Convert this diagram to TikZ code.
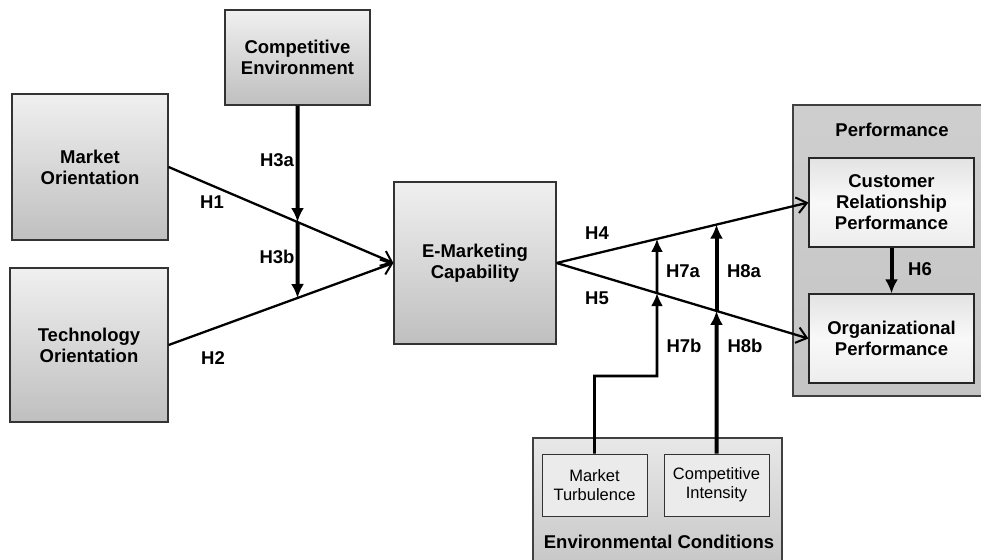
\documentclass[tikz,border=0pt]{standalone}
\usepackage{fontspec}
\setmainfont{Liberation Sans}
\usetikzlibrary{arrows.meta}
\begin{document}
\begin{tikzpicture}[x=1pt,y=-1pt,
  bigfont/.style={font=\bfseries\fontsize{18.5}{21}\selectfont},
  box/.style={draw=black!80, line width=1.2pt, top color=gray!12, bottom color=gray!50, align=center, bigfont, inner sep=0pt},
  innerbox/.style={draw=black!85, line width=1.2pt, top color=gray!22, bottom color=gray!14, middle color=gray!5, align=center, bigfont, inner sep=0pt},
  smallbox/.style={draw=black!80, line width=1pt, fill=gray!16, align=center, font=\fontsize{16.5}{19}\selectfont, inner sep=0pt},
  group/.style={draw=black!75, line width=1.2pt, inner sep=0pt},
  lab/.style={bigfont, inner sep=0pt},
  thinarrow/.style={line width=2.3pt, -{Straight Barb[length=10pt,width=16pt,line width=2pt]}},
  thickarrow/.style={line width=4pt, -{Latex[length=14pt,width=13pt]}},
  medarrow/.style={line width=2.8pt, -{Latex[length=13pt,width=12pt]}},
]
\useasboundingbox (0,0) rectangle (981,559);

% group boxes
\node[group, top color=gray!38, bottom color=gray!46, minimum width=192pt, minimum height=291pt] (perf) at (889,250.5) {};
\node[group, top color=gray!18, bottom color=gray!45, minimum width=249pt, minimum height=132pt] (env) at (657.5,504) {};

% main boxes
\node[box, minimum width=145pt, minimum height=95pt] (ce) at (297.5,57.5) {Competitive\\Environment};
\node[box, minimum width=156pt, minimum height=146pt] (mo) at (90,167) {Market\\Orientation};
\node[box, minimum width=158pt, minimum height=154pt] (to) at (89,345) {Technology\\Orientation};
\node[box, minimum width=162pt, minimum height=162pt] (em) at (475,263) {E-Marketing\\Capability};

\node[lab] (perflab) at (892,130) {Performance};
\node[innerbox, minimum width=165pt, minimum height=89pt] (crp) at (891.5,202.5) {Customer\\Relationship\\Performance};
\node[innerbox, minimum width=165pt, minimum height=89pt] (op) at (891.5,338.5) {Organizational\\Performance};

\node[smallbox, minimum width=105pt, minimum height=62pt] (mt) at (594.5,485) {Market\\Turbulence};
\node[smallbox, minimum width=105pt, minimum height=62pt] (ci) at (716.5,485) {Competitive\\Intensity};
\node[lab] (envlab) at (659,542) {Environmental Conditions};

% direct paths
\draw[thinarrow] (mo.east) -- (em.west);
\draw[thinarrow] (to.east) -- (em.west);
\draw[thinarrow] (em.east) -- (crp.west);
\draw[thinarrow] (em.east) -- (op.west);
\draw[thickarrow] (crp.south) -- (op.north);

% moderator: competitive environment
\coordinate (x1) at (intersection of mo.east--em.west and ce.south--ce.north);
\coordinate (x2) at (intersection of to.east--em.west and ce.south--ce.north);
\draw[thickarrow] (ce.south) -- (x1);
\draw[thickarrow] (x1) -- (x2);

% moderator: market turbulence
\coordinate (k7) at (657,376);
\coordinate (k7t) at (657,0);
\coordinate (y75) at (intersection of em.east--op.west and k7--k7t);
\coordinate (y74) at (intersection of em.east--crp.west and k7--k7t);
\draw[medarrow, line join=miter] (mt.north) |- (k7) -- (y75);
\draw[medarrow] (y75) -- (y74);

% moderator: competitive intensity
\coordinate (k8t) at (716.5,0);
\coordinate (y85) at (intersection of em.east--op.west and ci.north--k8t);
\coordinate (y84) at (intersection of em.east--crp.west and ci.north--k8t);
\draw[thickarrow] (ci.north) -- (y85);
\draw[thickarrow] (y85) -- (y84);

% hypothesis labels
\node[lab] (h1) at (212,202) {H1};
\node[lab] (h2) at (213,358) {H2};
\node[lab] (h3a) at (277,160) {H3a};
\node[lab] (h3b) at (277,257) {H3b};
\node[lab] (h4) at (597,233) {H4};
\node[lab] (h5) at (597,298) {H5};
\node[lab] (h6) at (920,269) {H6};
\node[lab] (h7a) at (683,271) {H7a};
\node[lab] (h8a) at (744,271) {H8a};
\node[lab] (h7b) at (684,346) {H7b};
\node[lab] (h8b) at (745,346) {H8b};
\end{tikzpicture}
\end{document}
